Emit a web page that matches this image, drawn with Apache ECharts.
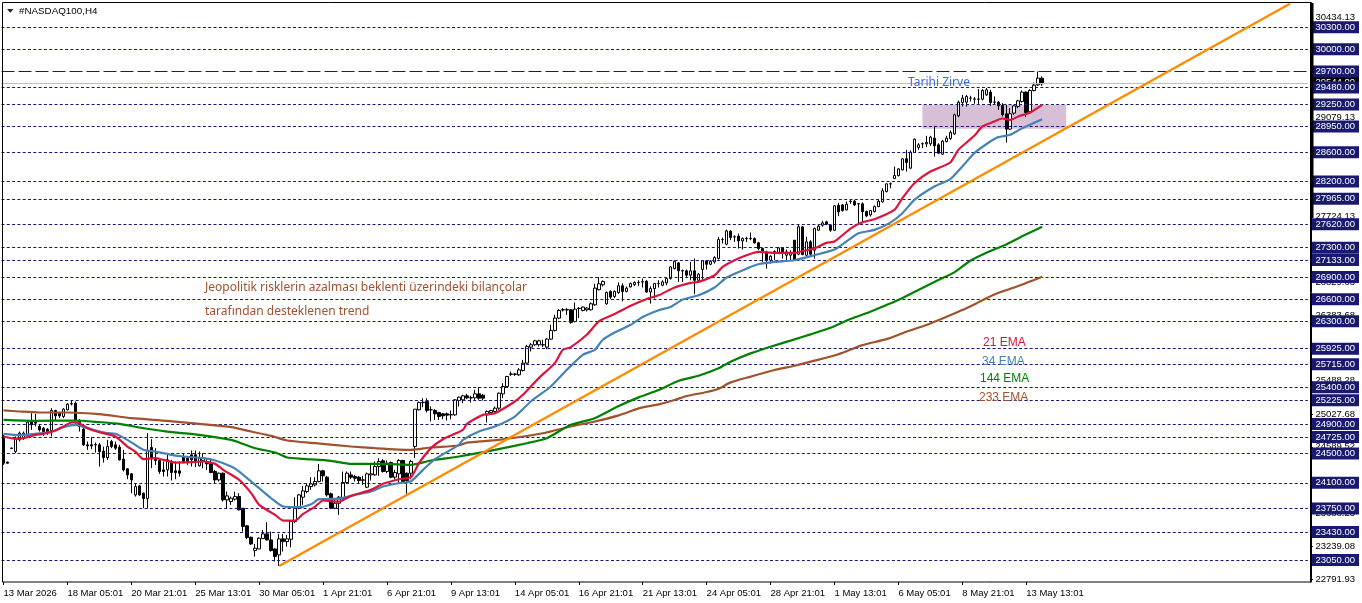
<!DOCTYPE html>
<html>
<head>
<meta charset="utf-8">
<title>#NASDAQ100,H4</title>
<script src="https://cdn.jsdelivr.net/npm/echarts@6/dist/echarts.min.js"></script>
<style>
  html, body { margin: 0; padding: 0; background: #fff; }
  #chart { width: 1362px; height: 603px; }
</style>
</head>
<body>
<div id="chart"></div>
<script>
// one H4 bar every 4px, labels every 16 bars
var tickLabels = ['13 Mar 2026', '18 Mar 05:01', '20 Mar 21:01', '25 Mar 13:01', '30 Mar 05:01', '1 Apr 21:01',
  '6 Apr 21:01', '9 Apr 13:01', '14 Apr 05:01', '16 Apr 21:01', '21 Apr 13:01', '24 Apr 05:01', '28 Apr 21:01',
  '1 May 13:01', '6 May 05:01', '8 May 21:01', '13 May 13:01'];

var opens = [24730,24381,24572,24526,24685,24708,24753,24935,24935,24867,24844,24830,24812,25085,25048,25003,25094,25173,25184,24948,
  24830,24617,24617,24619,24617,24531,24444,24662,24617,24585,24422,24290,24222,23936,24058,23959,23886,24581,24435,24404,
  24276,24276,24390,24263,24263,24458,24435,24481,24481,24331,24404,24390,24358,24254,24140,24231,23868,23845,23877,23913,
  23754,23514,23359,23178,23200,23341,23405,23323,23200,23119,23337,23300,23332,23573,23754,23904,23981,24049,24072,24118,
  24263,24177,23950,23754,23822,23891,24104,24208,24186,24177,24140,24040,24208,24208,24322,24399,24254,24376,24177,24222,
  24404,24231,24231,24594,25094,25191,25207,25096,25085,25057,25039,25039,25024,25025,25221,25229,25284,25255,25257,25311,
  25293,25025,25057,25071,25116,25311,25411,25577,25581,25570,25629,25729,25947,25979,25979,25977,25947,26056,26174,26342,
  26453,26457,26455,26296,26475,26446,26455,26455,26523,26728,26796,26537,26705,26637,26691,26782,26705,26767,26798,26824,
  26837,26844,26698,26744,26810,26789,26821,26880,27016,27093,26987,26985,26926,26985,26857,27003,27121,27075,27107,27153,
  27413,27348,27525,27448,27457,27393,27423,27427,27425,27366,27289,27243,27130,27245,27234,27302,27198,27198,27402,27212,
  27584,27198,27380,27266,27538,27607,27652,27607,27538,27879,27883,27815,27929,27933,27897,27897,27792,27747,27792,27860,
  27924,28065,28168,28242,28283,28360,28510,28383,28596,28664,28714,28714,28714,28791,28700,28573,28746,28787,28850,29095,
  29277,29281,29336,29322,29324,29322,29381,29418,29281,29281,29236,29123,28914,29132,29222,29290,29418,29154,29440,29517,29608];
var closes = [24367,24367,24568,24708,24776,24776,24926,24889,24912,24821,24798,24785,25085,25012,25012,25103,25171,25178,24957,24867,
  24617,24603,24603,24615,24526,24444,24594,24594,24572,24413,24276,24208,24140,24049,23936,23886,24535,24435,24404,24254,
  24254,24413,24240,24240,24231,24390,24390,24413,24390,24435,24435,24358,24240,24140,24231,23868,23922,23890,23913,23732,
  23505,23355,23268,23209,23346,23405,23323,23178,23096,23337,23300,23337,23573,23763,23936,23990,24058,24086,24118,24263,
  24195,23936,23754,23822,23904,24104,24231,24177,24163,24131,24136,24222,24222,24322,24390,24254,24367,24177,24240,24404,
  24118,24131,24390,25103,25193,25196,25085,25094,25039,25003,25012,25021,25028,25230,25266,25284,25257,25259,25311,25252,
  25252,25071,25084,25116,25320,25411,25547,25581,25577,25638,25729,25956,25979,26033,26033,25981,26056,26174,26342,26446,
  26457,26453,26283,26464,26473,26492,26478,26537,26750,26809,26841,26691,26628,26705,26782,26705,26750,26812,26826,26828,
  26833,26698,26744,26812,26814,26835,26880,27039,27116,26985,26983,26926,26985,26857,26939,27121,27075,27116,27166,27411,
  27411,27529,27439,27446,27393,27425,27427,27423,27366,27289,27243,27130,27184,27241,27298,27230,27243,27221,27139,27584,
  27207,27380,27212,27561,27593,27638,27620,27538,27870,27788,27806,27892,27933,27883,27899,27792,27733,27806,27860,27933,
  28074,28169,28170,28283,28373,28510,28460,28600,28777,28700,28716,28732,28805,28687,28587,28750,28791,28868,29109,29281,
  29336,29359,29338,29324,29322,29440,29449,29277,29283,29231,29109,28914,29123,29231,29300,29418,29141,29440,29513,29608,29531];
var lows = [24344,24358,24562,24503,24662,24685,24730,24821,24867,24798,24739,24753,24730,24948,24980,24980,25085,25153,24912,24798,
  24603,24549,24558,24512,24322,24376,24413,24572,24549,24404,24254,24149,23959,23913,23922,23754,23754,24299,24344,24222,
  24186,24186,24131,24149,24186,24367,24344,24322,24313,24322,24299,24276,24231,24095,24118,23845,23754,23800,23859,23723,
  23436,23332,23255,23096,23196,23337,23314,23164,23028,22969,23164,23232,23223,23550,23741,23800,23959,24004,24049,24104,
  24118,23913,23741,23741,23664,23868,24095,24149,24118,24095,24072,24027,24131,24195,24195,24240,24231,24163,24149,24095,
  24104,23950,24149,24435,25085,25130,25057,24935,24957,24957,24966,24948,24966,25012,25139,25184,25238,25193,25229,25229,
  25220,24921,25025,25057,25093,25252,25402,25556,25556,25556,25615,25715,25888,25965,25956,25947,25920,26047,26160,26328,
  26432,26387,26265,26283,26342,26432,26432,26446,26510,26719,26773,26523,26600,26614,26673,26569,26691,26758,26776,26776,
  26758,26685,26540,26608,26758,26776,26789,26866,27003,26835,26835,26903,26857,26667,26835,26866,27003,27062,27084,27139,
  27357,27334,27402,27379,27289,27275,27379,27402,27357,27266,27107,27016,27084,27130,27221,27153,27130,27130,27130,27198,
  27198,27175,27198,27153,27529,27584,27607,27516,27529,27729,27792,27806,27897,27869,27633,27633,27715,27724,27779,27851,
  27915,28051,28110,28233,28269,28351,28337,28369,28587,28632,28655,28669,28687,28541,28578,28564,28732,28768,28836,29077,
  29222,29222,29290,29259,29259,29304,29368,29231,29245,29177,29086,28732,28905,29109,29200,29277,29077,29132,29427,29504,29504];
var highs = [24753,24390,24581,24730,24798,24798,24935,25048,25039,24889,24858,24844,25116,25094,25057,25116,25184,25221,25207,24966,
  24876,24662,24721,24649,24640,24594,24685,24685,24662,24617,24549,24299,24231,24086,24072,23968,24776,24694,24572,24435,
  24390,24503,24413,24390,24390,24503,24458,24540,24540,24526,24503,24435,24435,24276,24240,24240,23981,23913,23981,23959,
  23754,23527,23368,23268,23359,23459,23564,23436,23209,23405,23405,23391,23586,23904,23950,24058,24095,24177,24177,24358,
  24276,24195,23968,23890,23922,24254,24254,24254,24208,24195,24195,24240,24344,24390,24435,24422,24404,24390,24276,24422,
  24413,24240,24413,25103,25207,25252,25252,25139,25103,25066,25048,25057,25085,25239,25275,25298,25311,25284,25366,25402,
  25311,25084,25093,25139,25329,25456,25556,25615,25593,25661,25774,25979,26001,26047,26047,26047,26069,26251,26387,26464,
  26478,26478,26464,26555,26492,26501,26492,26555,26809,26900,26855,26705,26719,26719,26827,26818,26773,26826,26844,26857,
  26880,26857,26776,26821,26857,26857,26894,27048,27130,27107,27003,27003,27107,27153,26957,27130,27130,27130,27184,27448,
  27439,27547,27538,27470,27493,27439,27448,27507,27439,27380,27302,27257,27198,27266,27311,27311,27275,27266,27402,27620,
  27593,27448,27402,27575,27620,27666,27666,27620,27879,27911,27897,27929,27951,27951,27906,27915,27806,27815,27874,27951,
  28110,28178,28187,28405,28383,28519,28632,28623,28787,28723,28732,28823,28823,28959,28723,28768,28823,28896,29123,29304,
  29381,29381,29368,29350,29458,29458,29472,29449,29359,29295,29268,29245,29200,29245,29313,29440,29427,29458,29549,29699,29631];

// moving averages, [bar, price]
var ema21 = [[0,24730],[3,24699],[5,24708],[8,24753],[10,24767],[13,24812],[15,24867],[17,24921],[19,24912],[21,24844],[24,24789],[28,24730],[31,24594],[33,24526],[35,24422],[38,24435],[40,24413],[43,24376],[47,24381],[50,24390],[53,24358],[55,24276],
  [59,24140],[62,23959],[64,23800],[68,23663],[70,23586],[73,23586],[75,23677],[78,23777],[80,23859],[84,23845],[87,23922],[92,24004],[95,24086],[99,24149],[102,24177],[104,24367],[107,24572],[110,24694],[115,24821],
  [116,24903],[120,25025],[123,25048],[128,25207],[130,25298],[134,25525],[138,25729],[140,25910],[142,25947],[146,26115],[149,26296],[152,26373],[157,26510],
  [161,26603],[164,26653],[168,26758],[172,26821],[174,26835],[178,26926],[180,27039],[183,27130],[186,27198],[189,27243],[193,27230],[198,27230],[201,27266],[203,27289],[206,27366],[208,27384],[212,27561],
  [215,27647],[218,27688],[223,27815],[225,27974],[228,28178],[232,28337],[237,28460],[239,28632],[243,28823],[245,28950],[248,29018],[250,29059],[252,29041],[254,29086],[257,29141],[260,29245]];
var ema34 = [[0,24767],[4,24749],[8,24767],[12,24794],[15,24858],[18,24889],[22,24830],[26,24776],[28,24767],[31,24685],[35,24549],[38,24526],[42,24481],[45,24458],[50,24435],[53,24404],[57,24322],
  [59,24254],[63,24072],[67,23890],[70,23777],[74,23768],[77,23809],[79,23877],[84,23886],[88,23936],[92,23981],[95,24049],[99,24095],[102,24122],[105,24276],[108,24422],[114,24617],
  [115,24685],[119,24798],[123,24866],[128,25002],[132,25207],[137,25411],[141,25638],[145,25842],[148,25910],[150,26047],[153,26146],[157,26251],
  [160,26358],[164,26449],[167,26494],[170,26594],[174,26653],[178,26758],[181,26894],[186,27016],[189,27075],[193,27107],[198,27130],[203,27198],[208,27275],[212,27425],
  [214,27497],[218,27543],[222,27642],[225,27770],[228,27951],[233,28133],[237,28233],[240,28405],[243,28587],[247,28746],[249,28805],[252,28837],[255,28927],[260,29050]];
var ema144 = [[0,24957],[8,24944],[18,24948],[24,24926],[29,24903],[34,24853],[41,24798],[49,24753],[57,24685],[59,24649],[63,24571],[68,24512],[71,24444],[75,24426],[82,24399],[87,24358],[95,24358],[102,24345],[107,24404],[114,24458],
  [123,24548],[131,24639],[136,24707],[142,24889],[148,24980],[154,25145],[159,25263],[164,25363],[169,25490],[174,25558],[179,25658],[182,25749],[187,25862],[192,25953],[197,26035],[202,26121],[207,26210],
  [212,26329],[217,26428],[221,26519],[224,26587],[229,26724],[234,26860],[238,26964],[242,27123],[247,27255],[251,27345],[256,27482],[260,27586]];
var ema233 = [[0,25085],[4,25071],[9,25057],[16,25057],[24,25035],[32,24980],[41,24944],[49,24903],[57,24858],[62,24798],[67,24739],[71,24676],[78,24640],[87,24594],[93,24571],[102,24549],[107,24581],[114,24608],
  [116,24648],[124,24685],[135,24775],[142,24866],[148,24934],[154,25018],[159,25113],[164,25168],[168,25227],[171,25281],[176,25336],[179,25381],[182,25467],[187,25545],[193,25635],[198,25694],[203,25763],[209,25850],
  [215,25974],[221,26056],[226,26156],[231,26247],[235,26338],[240,26451],[244,26556],[248,26664],[254,26778],[260,26905]];
var trendLine = [[69,22968],[322,30620]];

var levels = [30300,30000,29480,29250,28950,28600,28200,27965,27620,27300,27133,26900,26600,26300,25925,25715,25400,25225,24900,24725,24500,24100,23750,23430,23050];
var peakLevel = 29700;
var bidLevel = 29544;
var priceTicks = [30434.13,29979.13,29529.13,29079.13,28624.13,28174.13,27724.13,27274.13,26829.03,26383.68,25928.13,25488.28,25027.68,24589.52,24139.13,23688.23,23239.08,22791.93];

var barCount = 327;
var priceMin = 22750;
var priceMax = 30631;
var font = '"Liberation Sans", sans-serif';
var noteFont = '"Noto Sans", sans-serif';

var categories = [];
for (var i = 0; i < barCount; i++) {
  categories.push(i % 16 === 0 && tickLabels[i / 16] ? tickLabels[i / 16] : '');
}

var candles = opens.map(function (o, k) {
  return [o, closes[k], lows[k], highs[k]];
});

function labelled(idx) {
  return idx % 16 === 0 && idx / 16 < tickLabels.length;
}

function emaLine(name, data, color) {
  return {
    name: name, type: 'line', data: data, symbol: 'none', z: 5, smooth: 0.2,
    lineStyle: { color: color, width: 2.2 }, silent: true, animation: false
  };
}

function priceAxis(values, z, label, showLine) {
  return {
    type: 'value', position: 'right', offset: 2, min: priceMin, max: priceMax, z: z,
    splitLine: { show: false },
    axisLine: { show: showLine, lineStyle: { color: '#000' } },
    axisTick: { show: showLine, length: 3, customValues: values, lineStyle: { color: '#000' } },
    axisLabel: Object.assign({
      customValues: values, margin: 1.5, align: 'left', padding: [1, 4, 1, 4],
      fontFamily: font, fontSize: 9.5,
      formatter: function (v) { return v.toFixed(2); }
    }, label)
  };
}

var chart = echarts.init(document.getElementById('chart'));
chart.setOption({
  animation: false,
  backgroundColor: '#fff',
  grid: { left: 1.5, top: 3, width: 1308, height: 579 },
  xAxis: {
    type: 'category', data: categories, boundaryGap: true,
    axisLine: { show: false },
    axisTick: { show: true, length: 3, alignWithLabel: true, interval: labelled, lineStyle: { color: '#000' } },
    axisLabel: { interval: labelled, align: 'left', margin: 6, color: '#000', fontFamily: font, fontSize: 9.5, hideOverlap: false },
    splitLine: { show: false }
  },
  yAxis: [
    priceAxis(priceTicks, 3, { color: '#000' }, true),
    priceAxis([bidLevel], 4, { color: '#fff', backgroundColor: '#000' }, false),
    priceAxis(levels.concat(peakLevel), 5, { color: '#fff', backgroundColor: '#191970' }, false)
  ],
  series: [
    {
      name: 'levels', type: 'line', data: [], z: 1, silent: true,
      markLine: {
        silent: true, symbol: 'none', animation: false, label: { show: false },
        lineStyle: { color: '#191970', type: [3, 2.3], width: 1.2 },
        data: levels.map(function (v) { return { yAxis: v }; }).concat([
          { yAxis: peakLevel, lineStyle: { color: '#191970', type: [13, 4], width: 1.2 } },
          { yAxis: bidLevel, lineStyle: { color: '#c0c0c0', type: 'solid', width: 1 } }
        ])
      },
      markArea: {
        silent: true, animation: false,
        itemStyle: { color: '#d8bfd8' },
        data: [[{ xAxis: 230, yAxis: 29243 }, { xAxis: 266, yAxis: 28920 }]]
      }
    },
    {
      name: '#NASDAQ100,H4', type: 'candlestick', data: candles, barWidth: 3, z: 3, silent: true,
      itemStyle: { color: '#fff', color0: '#000', borderColor: '#000', borderColor0: '#000', borderWidth: 1 }
    },
    emaLine('233 EMA', ema233, '#a0522d'),
    emaLine('144 EMA', ema144, '#008000'),
    emaLine('34 EMA', ema34, '#4682b4'),
    emaLine('21 EMA', ema21, '#dc143c'),
    {
      name: 'trend', type: 'line', data: trendLine, symbol: 'none', z: 6, silent: true,
      lineStyle: { color: '#ff8c00', width: 2.4 }
    }
  ],
  graphic: [
    { type: 'rect', silent: true, z: 20, shape: { x: 2.5, y: 2.5, width: 1309, height: 579.5 }, style: { fill: null, stroke: '#000', lineWidth: 1 } },
    { type: 'rect', silent: true, z: 20, shape: { x: 1310.5, y: 3, width: 3, height: 215 }, style: { fill: '#000' } },
    { type: 'polygon', silent: true, z: 20, shape: { points: [[7, 9], [13.5, 9], [10.2, 12.8]] }, style: { fill: '#222' } },
    { type: 'text', silent: true, z: 20, x: 19, y: 6, style: { text: '#NASDAQ100,H4', fill: '#000', font: '9.8px ' + font } },
    { type: 'text', silent: true, z: 20, x: 205, y: 282, style: { text: 'Jeopolitik risklerin azalması beklenti üzerindeki bilançolar', fill: '#a0522d', font: '12px ' + noteFont } },
    { type: 'text', silent: true, z: 20, x: 205, y: 306, style: { text: 'tarafından desteklenen trend', fill: '#a0522d', font: '12px ' + noteFont } },
    { type: 'text', silent: true, z: 20, x: 908, y: 77, style: { text: 'Tarihi Zirve', fill: '#4169e1', font: '12px ' + noteFont } },
    { type: 'text', silent: true, z: 20, x: 983, y: 337, style: { text: '21 EMA', fill: '#dc143c', font: '12px ' + font } },
    { type: 'text', silent: true, z: 20, x: 982, y: 356, style: { text: '34 EMA', fill: '#4682b4', font: '12px ' + font } },
    { type: 'text', silent: true, z: 20, x: 980, y: 373, style: { text: '144 EMA', fill: '#008000', font: '12px ' + font } },
    { type: 'text', silent: true, z: 20, x: 979, y: 392, style: { text: '233 EMA', fill: '#a0522d', font: '12px ' + font } }
  ]
});
</script>
</body>
</html>
